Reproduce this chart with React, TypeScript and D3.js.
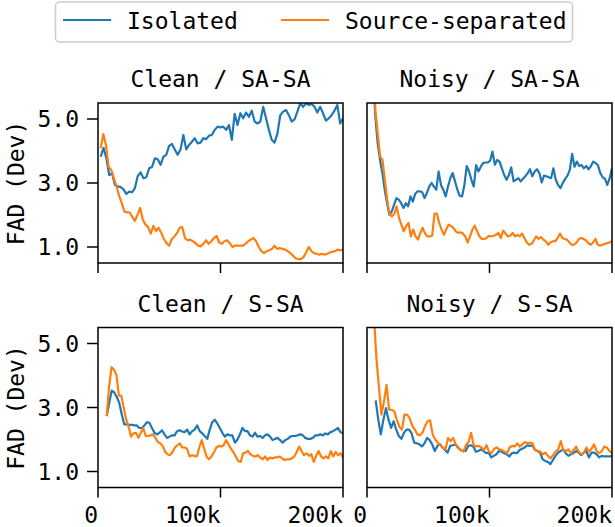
import React from "react";
import * as d3 from "d3";

const panelTitles = ["Clean / SA-SA", "Noisy / SA-SA", "Clean / S-SA", "Noisy / S-SA"];
const seriesNames = ["Isolated", "Source-separated"];
const seriesColors = ["#1f77b4", "#ff7f0e"];
const yTicks = [1, 3, 5];
const xTicks = [0, 100000, 200000];
const xTickLabels = ["0", "100k", "200k"];
const lastStep = 200000;

// first step of each series [isolated, source-separated] per panel
const firstSteps = [
  [2200, 2200],
  [4900, 4900],
  [7100, 7100],
  [7100, 5500],
];

const cleanSaSaIsolated = [3.82,4.1,3.77,3.25,3.3,2.94,2.9,2.87,2.8,2.66,2.73,2.71,2.84,3.22,3.33,3.15,3.18,3.46,3.5,3.77,3.74,3.57,3.82,3.88,4.16,4.22,4.05,3.88,4.05,4.5,4.05,4.19,4.29,4.4,4.24,4.26,4.4,4.37,4.48,4.5,4.66,4.76,4.74,4.76,4.66,4.81,4.35,5.16,4.81,5.18,5.02,5.2,5.07,5.26,4.92,4.86,4.92,5.38,5.02,4.66,4.35,4.26,4.55,5.12,5.23,5.28,5.12,4.92,4.99,5.23,5.49,5.38,5.49,5.44,5.47,5.38,5.2,5.38,5.18,4.95,5.02,5.12,5.26,5.44,4.86,5.02];
const cleanSaSaSeparated = [4.09,4.53,4.19,3.51,3.41,3.15,2.89,2.6,2.37,2.11,2.08,2.08,1.94,1.82,2.01,2.22,1.85,1.7,1.62,1.42,1.66,1.5,1.6,1.44,1.25,1.12,1.04,1.25,1.33,1.44,1.6,1.62,1.28,1.21,1.23,1.18,1.12,1.04,1.02,1.1,1.21,1.1,1.18,1.28,1.35,1.14,1.1,1.18,1.21,1.12,1.0,1.04,1.04,1.04,1.04,1.1,1.18,1.23,1.28,1.18,1.0,0.87,0.81,0.87,0.9,0.94,1.04,0.94,0.97,0.94,0.92,0.87,0.81,0.73,0.65,0.62,0.62,0.68,0.83,1.0,0.87,0.81,0.79,0.76,0.79,0.76,0.79,0.83,0.85,0.87,0.92,0.9,0.92];
const noisySaSaIsolated = [6.5,5.07,4.24,3.72,3.31,2.79,2.37,2.01,2.11,2.32,2.53,2.48,2.37,2.22,2.37,2.27,2.58,2.42,2.66,2.74,2.74,2.71,2.53,2.69,2.89,3.0,2.89,2.79,3.36,2.94,2.79,2.58,2.89,3.15,3.31,3.05,2.79,2.6,2.58,2.94,3.53,3.36,3.1,2.89,3.56,3.36,3.51,3.62,3.64,3.64,3.7,3.98,3.57,3.72,3.67,3.46,3.25,3.1,3.25,3.49,3.05,3.1,3.15,3.05,3.13,3.21,3.31,3.43,3.21,3.36,3.43,3.31,3.02,3.23,3.21,3.18,3.15,3.46,3.1,2.94,2.84,3.0,3.13,3.23,3.41,3.91,3.51,3.67,3.53,3.56,3.46,3.53,3.43,3.53,3.67,3.62,3.56,3.31,3.18,3.13,2.94,3.15,3.46];
const noisySaSaSeparated = [7.0,5.28,4.55,3.83,3.72,3.1,2.48,2.01,1.96,2.04,2.27,1.91,1.7,1.49,1.65,1.75,1.33,1.54,1.33,1.23,1.44,1.6,1.42,1.33,1.33,1.35,2.04,2.04,1.75,1.54,1.38,1.56,1.7,1.65,1.6,1.49,1.44,1.46,1.42,1.33,1.14,1.33,1.54,1.67,1.49,1.33,1.25,1.25,1.28,1.35,1.33,1.35,1.38,1.44,1.28,1.51,1.42,1.33,1.35,1.44,1.33,1.38,1.33,1.42,1.28,1.14,1.07,1.1,1.21,1.33,1.25,1.31,1.23,1.18,1.07,1.14,1.18,1.18,1.28,1.42,1.28,1.25,1.23,1.14,1.07,1.07,1.14,1.25,1.28,1.25,1.21,1.12,1.07,1.14,1.25,1.07,1.04,1.07,1.1,1.12,1.14,1.18];
const cleanSSaIsolated = [2.73,3.14,3.53,3.47,3.33,3.14,2.78,2.47,2.47,2.46,2.46,2.44,2.44,2.36,2.36,2.44,2.54,2.52,2.36,2.21,2.16,2.21,2.29,2.16,2.05,2.09,2.13,2.13,2.26,2.29,2.25,2.23,2.31,2.16,2.26,2.31,2.44,2.26,2.19,2.11,2.02,2.31,2.54,2.62,2.5,2.36,2.21,2.09,2.16,2.13,2.13,1.9,2.0,2.16,2.36,2.26,2.26,2.13,2.09,2.21,2.09,2.11,2.05,2.13,2.16,2.09,1.98,2.02,2.05,1.98,1.9,1.98,2.02,2.09,2.11,2.11,2.13,2.16,2.13,2.05,2.02,2.02,2.05,2.13,2.13,2.16,2.13,2.19,2.16,2.23,2.26,2.31,2.36,2.23,2.19];
const cleanSSaSeparated = [2.73,3.66,4.26,4.18,4.02,3.37,3.37,2.98,2.62,2.4,2.09,2.19,2.21,2.05,2.21,2.36,2.11,2.11,2.13,2.16,2.05,1.92,1.88,1.8,1.61,1.54,1.51,1.61,1.75,1.82,1.88,1.75,1.75,1.71,1.47,1.51,1.49,1.47,1.75,1.98,1.71,1.47,1.38,1.47,1.59,1.75,1.8,1.78,1.82,1.98,1.85,1.71,1.61,1.47,1.33,1.3,1.57,1.59,1.64,1.54,1.49,1.47,1.51,1.44,1.38,1.47,1.36,1.44,1.41,1.44,1.44,1.47,1.41,1.36,1.38,1.38,1.41,1.47,1.61,1.78,1.64,1.51,1.57,1.49,1.54,1.3,1.49,1.64,1.47,1.41,1.47,1.41,1.64,1.47,1.61,1.51,1.57,1.44];
const noisySSaIsolated = [3.22,2.62,2.16,2.62,2.98,2.62,2.36,2.57,2.31,2.11,2.02,2.21,2.31,2.31,2.19,1.9,1.88,1.85,1.78,1.88,2.05,1.98,1.85,1.64,1.8,1.85,1.75,1.67,1.59,1.8,1.82,1.85,1.75,1.67,1.64,1.64,1.8,1.82,1.78,1.62,1.64,1.69,1.64,1.57,1.59,1.44,1.49,1.54,1.64,1.62,1.57,1.54,1.47,1.57,1.59,1.57,1.67,1.71,1.75,1.82,1.8,1.82,1.67,1.64,1.59,1.38,1.33,1.3,1.23,1.36,1.49,1.59,1.64,1.69,1.57,1.49,1.54,1.57,1.64,1.59,1.51,1.59,1.64,1.44,1.59,1.59,1.54,1.44,1.49,1.47,1.47,1.47,1.49];
const noisySSaSeparated = [6.0,4.59,3.66,2.78,3.19,3.71,2.93,2.93,2.88,2.62,2.4,2.31,2.78,2.78,2.67,2.44,2.31,2.16,2.13,2.21,2.42,2.57,2.6,2.16,2.0,1.9,1.82,1.75,1.69,2.05,1.95,2.05,1.85,1.75,1.67,1.62,1.82,1.92,2.21,1.82,1.78,1.8,1.75,1.67,1.82,1.62,1.57,1.71,1.75,1.69,1.67,1.62,1.57,1.75,1.8,1.78,1.88,1.78,1.85,1.92,1.88,1.9,1.88,1.67,1.64,1.62,1.54,1.59,1.49,1.41,1.51,1.62,1.69,1.95,1.67,1.64,1.69,1.57,1.67,1.78,1.62,1.54,1.57,1.75,1.62,1.71,1.85,1.64,1.57,1.64,1.78,1.75,1.64,1.57];

const panelSeries = [
  [cleanSaSaIsolated, cleanSaSaSeparated],
  [noisySaSaIsolated, noisySaSaSeparated],
  [cleanSSaIsolated, cleanSSaSeparated],
  [noisySSaIsolated, noisySSaSeparated],
];

const W = 615;
const H = 527;
const FONT = "'DejaVu Sans Mono', monospace";
const FS = 23;
const colLeft = [98, 367];
const rowTop = [103, 327.5];
const PW = 245;
const PH = 160;

export default function App() {
  const x = d3.scaleLinear().domain([0, 200000]).range([0, PW]);
  const y = d3.scaleLinear().domain([0.5, 5.5]).range([PH, 0]);

  return (
    <svg width={W} height={H} style={{ position: "absolute", left: 0, top: 0, background: "#fff" }} fontFamily={FONT}>
      <defs>
        <clipPath id="pclip">
          <rect x={0} y={0} width={PW} height={PH} />
        </clipPath>
      </defs>
      {/* legend */}
      <g>
        <rect x={55.5} y={2} width={517} height={40} rx={4} fill="#fff" stroke="#cccccc" strokeWidth={1.5} />
        {seriesNames.map((n, i) => {
          const lx = i === 0 ? 63 : 281;
          return (
            <g key={n}>
              <line x1={lx} x2={lx + 48} y1={20} y2={20} stroke={seriesColors[i]} strokeWidth={2.2} />
              <text x={lx + 64} y={28.5} fontSize={FS} fill="#000">{n}</text>
            </g>
          );
        })}
      </g>
      {panelTitles.map((title, p) => {
        const col = p % 2;
        const row = Math.floor(p / 2);
        const tx = colLeft[col];
        const ty = rowTop[row];
        return (
          <g key={title} transform={`translate(${tx},${ty})`}>
            <text x={PW / 2} y={-16} textAnchor="middle" fontSize={FS} fill="#000">{title}</text>
            <g clipPath="url(#pclip)">
              {panelSeries[p].map((vals, s) => {
                const s0 = firstSteps[p][s];
                const stepX = d3.scaleLinear().domain([0, vals.length - 1]).range([s0, lastStep]);
                const line = d3
                  .line<number>()
                  .x((_, i) => x(stepX(i)))
                  .y((v) => y(v));
                return (
                  <path key={s} d={line(vals) || ""} fill="none" stroke={seriesColors[s]} strokeWidth={2.2} strokeLinejoin="round" />
                );
              })}
            </g>
            <rect x={0} y={0} width={PW} height={PH} fill="none" stroke="#000" strokeWidth={1.5} />
            {xTicks.map((t, i) => (
              <g key={t} transform={`translate(${x(t)},${PH})`}>
                <line y1={0} y2={10} stroke="#000" strokeWidth={1.5} />
                {row === 1 && (
                  <text x={0} y={35} textAnchor="end" fontSize={FS} fill="#000">{xTickLabels[i]}</text>
                )}
              </g>
            ))}
            {col === 0 &&
              yTicks.map((t) => (
                <g key={t} transform={`translate(0,${y(t)})`}>
                  <line x1={-11} x2={0} stroke="#000" strokeWidth={1.5} />
                  <text x={-19} y={0} dy="0.35em" textAnchor="end" fontSize={FS} fill="#000">{t.toFixed(1)}</text>
                </g>
              ))}
            {col === 0 && (
              <text transform={`translate(${-74},${PH / 2}) rotate(-90)`} textAnchor="middle" fontSize={FS} fill="#000">FAD (Dev)</text>
            )}
          </g>
        );
      })}
    </svg>
  );
}
